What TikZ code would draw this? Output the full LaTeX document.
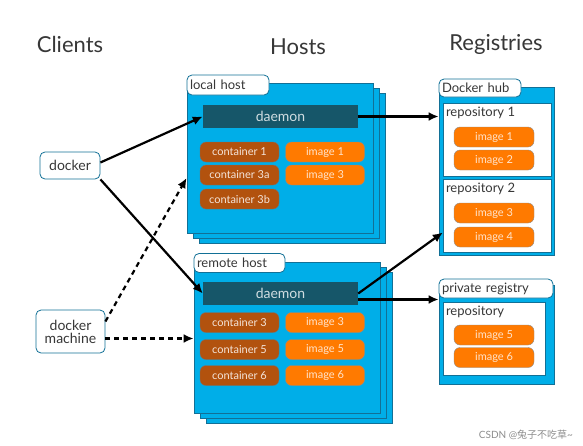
\documentclass[tikz,border=0pt]{standalone}
\usepackage{fontspec}
\usepackage{xcolor}
\usepackage{tikz}
\usetikzlibrary{arrows.meta}
\setmainfont{Lato}
\newfontfamily\cjk{Noto Sans CJK SC}

\definecolor{hostblue}{RGB}{0,174,232}
\definecolor{hostedge}{RGB}{18,112,150}
\definecolor{daemonteal}{RGB}{22,86,105}
\definecolor{contbrown}{RGB}{178,82,14}
\definecolor{imgorange}{RGB}{255,122,0}
\definecolor{labelgray}{RGB}{55,55,55}

\begin{document}
\begin{tikzpicture}
     [x=1pt, y=-1pt,
     title/.style={font=\fontsize{22}{26}\selectfont, text=labelgray},
     hostbox/.style={rectangle, draw=hostedge, fill=hostblue, thick},
     tagbox/.style={rectangle, rounded corners=5pt, draw=hostedge, fill=white, thick, font=\fontsize{13}{15}\selectfont, text=labelgray, align=left, inner sep=2pt},
     daemonbox/.style={rectangle, draw=none, fill=daemonteal, minimum width=155pt, minimum height=23pt, font=\fontsize{14}{16}\selectfont, text=white!80!daemonteal},
     containerball/.style={rectangle, rounded corners=6pt, draw=black!55, fill=contbrown, minimum width=79pt, minimum height=20pt, inner sep=1pt, font=\fontsize{11}{13}\selectfont, text=white!85!contbrown},
     imageball/.style={rectangle, rounded corners=6pt, draw=black!45, fill=imgorange, minimum width=79pt, minimum height=20pt, inner sep=1pt, font=\fontsize{11}{13}\selectfont, text=white!80!imgorange},
     repobox/.style={rectangle, draw=hostedge, fill=white, minimum width=108pt, minimum height=73pt},
     repotext/.style={anchor=north west, font=\fontsize{13}{15}\selectfont, text=labelgray, inner sep=0pt},
     clientbox/.style={rectangle, rounded corners=5pt, draw=hostedge, fill=white, thick, font=\fontsize{14}{16}\selectfont, text=labelgray, align=center, inner sep=1pt},
     solidarrow/.style={-{Latex[length=10pt,width=9pt]}, line width=2.2pt, black},
     dashedarrow/.style={-{Latex[length=10pt,width=9pt]}, line width=2.2pt, black, dash pattern=on 5pt off 4pt},
     ]
 \useasboundingbox (0,0) rectangle (583,445);
 % titles
 \node at (70,44) [title] (tclients) {Clients};
 \node at (298,47) [title] (thosts) {Hosts};
 \node at (496,44) [title] (tregs) {Registries};

 % local host
 \node at (292,168) [hostbox, minimum width=186pt, minimum height=150pt] (lhost3) {};
 \node at (286,163) [hostbox, minimum width=186pt, minimum height=150pt] (lhost2) {};
 \node at (280,158) [hostbox, minimum width=186pt, minimum height=150pt] (lhost) {};
 \node at (228,85) [tagbox, minimum width=82pt, minimum height=20pt, text width=76pt] (ltag) {local host};
 \node at (280.5,116.5) [daemonbox] (ldaemon) {daemon};
 \node at (239.5,152) [containerball] (lc1) {container 1};
 \node at (239.5,175) [containerball] (lc3a) {container 3a};
 \node at (239.5,199) [containerball] (lc3b) {container 3b};
 \node at (325,152) [imageball] (li1) {image 1};
 \node at (325,175) [imageball] (li3) {image 3};

 % remote host
 \node at (299,347.5) [hostbox, minimum width=186pt, minimum height=151pt] (rhost3) {};
 \node at (293,342.5) [hostbox, minimum width=186pt, minimum height=151pt] (rhost2) {};
 \node at (287,337.5) [hostbox, minimum width=186pt, minimum height=151pt] (rhost) {};
 \node at (239.5,263) [tagbox, minimum width=91pt, minimum height=19pt, text width=85pt] (rtag) {remote host};
 \node at (280.5,293.5) [daemonbox] (rdaemon) {daemon};
 \node at (239.5,322.5) [containerball] (rc3) {container 3};
 \node at (239.5,349.5) [containerball] (rc5) {container 5};
 \node at (239.5,375.5) [containerball] (rc6) {container 6};
 \node at (325,322.5) [imageball] (ri3) {image 3};
 \node at (325,349.5) [imageball] (ri5) {image 5};
 \node at (325,375.5) [imageball] (ri6) {image 6};

 % Docker hub
 \node at (496.5,171) [hostbox, minimum width=115pt, minimum height=168pt] (hub) {};
 \node at (480,88) [tagbox, minimum width=82pt, minimum height=18pt, text width=76pt] (hubtag) {Docker hub};
 \node at (497,139.5) [repobox] (repo1) {};
 \node at (497,215.5) [repobox] (repo2) {};
 \node[repotext] at ([xshift=3pt,yshift=-4pt]repo1.north west) (repo1txt) {repository 1};
 \node[repotext] at ([xshift=3pt,yshift=-4pt]repo2.north west) (repo2txt) {repository 2};
 \node at (494,137) [imageball, minimum width=80pt] (hi1) {image 1};
 \node at (494,160) [imageball, minimum width=80pt] (hi2) {image 2};
 \node at (494,213) [imageball, minimum width=80pt] (hi3) {image 3};
 \node at (494,237) [imageball, minimum width=80pt] (hi4) {image 4};

 % private registry
 \node at (496.5,334.5) [hostbox, minimum width=115pt, minimum height=99pt] (preg) {};
 \node at (496,288.5) [tagbox, minimum width=114pt, minimum height=19pt, text width=108pt] (pregtag) {private registry};
 \node at (494,338.5) [repobox, minimum width=102pt] (repo3) {};
 \node[repotext] at ([xshift=3pt,yshift=-4pt]repo3.north west) (repo3txt) {repository};
 \node at (494,335) [imageball, minimum width=80pt] (pi5) {image 5};
 \node at (494,357.5) [imageball, minimum width=80pt] (pi6) {image 6};

 % clients
 \node at (70,165.5) [clientbox, minimum width=60pt, minimum height=27pt] (docker) {docker};
 \node at (70.5,331.5) [clientbox, minimum width=69pt, minimum height=43pt] (machine) {docker\\[-3pt]machine};

 % connections
 \draw[solidarrow] ([yshift=3pt]docker.east) -- (ldaemon.west);
 \draw[solidarrow] (docker.south east) -- (rdaemon.west);
 \draw[dashedarrow] ([yshift=10pt]machine.east) -- ([yshift=-20pt]lhost.west);
 \draw[dashedarrow] ([yshift=-7pt]machine.east) -- ([yshift=-7pt]machine.east -| rhost.west);
 \draw[solidarrow] (ldaemon.east) -- (ldaemon.east -| hub.west);
 \draw[solidarrow] (rdaemon.east) -- ([yshift=-17pt]repo2.west);
 \draw[solidarrow] ([yshift=-6pt]rdaemon.east) -- ([yshift=-6pt]rdaemon.east -| pregtag.west);

 % watermark
 \node at (526,435) [font=\fontsize{10}{12}\selectfont, text=black!45] (mark) {CSDN @{\cjk 兔子不吃草}\textasciitilde};
 \end{tikzpicture}
\end{document}
